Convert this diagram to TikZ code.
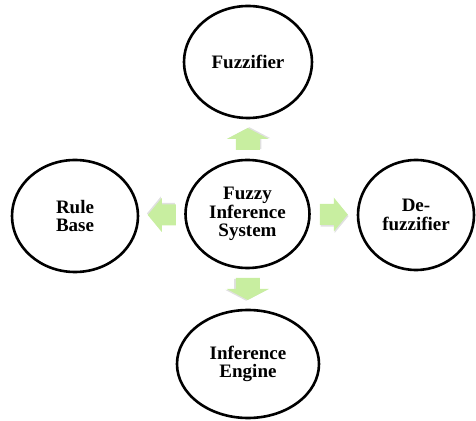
\documentclass[tikz,border=0pt]{standalone}
\usepackage{fontspec}
\setmainfont{Liberation Serif}
\usetikzlibrary{shapes.geometric,calc}

\definecolor{arrowgreen}{RGB}{200,238,160}

\tikzset{
  part/.style={ellipse, draw=black, line width=2.6pt, fill=white, inner sep=0pt,
    align=center, font=\fontsize{19}{18.5}\selectfont\bfseries},
}

% block arrow centred at #1, pointing at angle #2;
% #3 length, #4 head length, #5 half head width, #6 half shaft width
\newcommand\blockarr[6]{%
  \begin{scope}[shift={#1}, rotate=#2]
    \fill[black, opacity=0.12] ($(-#3/2,-#6)+(0.8,-1.6)$) -- ($(#3/2-#4,-#6)+(0.8,-1.6)$)
      -- ($(#3/2-#4,-#5)+(0.8,-1.6)$) -- ($(#3/2,0)+(0.8,-1.6)$) -- ($(#3/2-#4,#5)+(0.8,-1.6)$)
      -- ($(#3/2-#4,#6)+(0.8,-1.6)$) -- ($(-#3/2,#6)+(0.8,-1.6)$) -- cycle;
    \fill[arrowgreen] (-#3/2,-#6) -- (#3/2-#4,-#6) -- (#3/2-#4,-#5) -- (#3/2,0)
      -- (#3/2-#4,#5) -- (#3/2-#4,#6) -- (-#3/2,#6) -- cycle;
  \end{scope}}

\begin{document}
\begin{tikzpicture}[x=1pt, y=1pt]
  \useasboundingbox (0,0) rectangle (476,420);

  \node[part, minimum width=128, minimum height=112] (fuzz) at (248,358) {Fuzzifier};
  \node[part, minimum width=124, minimum height=108] (fis) at (247.5,206) {Fuzzy\\Inference\\System};
  \node[part, minimum width=126, minimum height=112] (rb) at (75,204) {Rule\\Base};
  \node[part, minimum width=116, minimum height=110] (defuzz) at (416,205) {De-\\fuzzifier};
  \node[part, minimum width=142, minimum height=108] (ie) at (248,56) {Inference\\Engine};

  \blockarr{($(fis.north)!0.5!(fuzz.south)$)}{90}{22}{11}{21}{12}
  \blockarr{($(fis.south)!0.5!(ie.north)$)}{-90}{22}{11}{21}{12}
  \blockarr{($(fis.west)!0.5!(rb.east)$)}{180}{28}{14}{17}{10.5}
  \blockarr{($(fis.east)!0.5!(defuzz.west)$)}{0}{28}{14}{17}{10.5}
\end{tikzpicture}
\end{document}
